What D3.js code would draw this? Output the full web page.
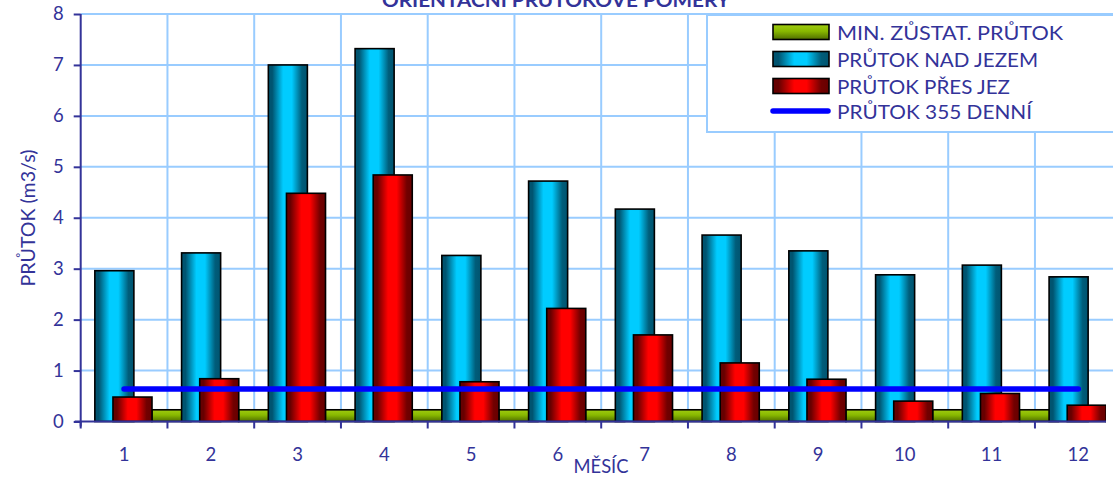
<!DOCTYPE html>
<html><head><meta charset="utf-8">
<script src="https://cdn.jsdelivr.net/npm/d3@7"></script>
<style>body{margin:0;background:#fff}svg{display:block}</style>
</head><body><svg id="c" width="1113" height="477"></svg>
<script>
const title = "ORIENTAČNÍ PRŮTOKOVÉ POMĚRY";
const months = ["1","2","3","4","5","6","7","8","9","10","11","12"];
const minFlow   = [0.23,0.23,0.23,0.23,0.23,0.23,0.23,0.23,0.23,0.23,0.23,0.23];
const flowAbove = [2.96,3.31,7.00,7.32,3.26,4.72,4.17,3.66,3.35,2.88,3.07,2.84];
const flowOver  = [0.48,0.84,4.48,4.84,0.78,2.22,1.70,1.15,0.83,0.40,0.55,0.32];
const flow355   = [0.64,0.64,0.64,0.64,0.64,0.64,0.64,0.64,0.64,0.64,0.64,0.64];
const yTicks = [0,1,2,3,4,5,6,7,8];
const seriesNames = ["MIN. ZŮSTAT. PRŮTOK","PRŮTOK NAD JEZEM","PRŮTOK PŘES JEZ","PRŮTOK 355 DENNÍ"];
const xTitle = "MĚSÍC";
const yTitle = "PRŮTOK (m3/s)";

const txt = "#333399", grid = "#99CCFF", font = "Lato, 'Open Sans', sans-serif";
const svg = d3.select("#c");
const x0 = 80.7, step = 86.75;
const x = d3.scaleBand().domain(months).range([x0, x0 + step * months.length]).padding(0);
const bw = x.bandwidth();
const y = d3.scaleLinear().domain([0, 8]).range([421.5, 14]);

const defs = svg.append("defs");
function hGrad(id, edge, mid, edge2) {
  const g = defs.append("linearGradient").attr("id", id).attr("x1", 0).attr("x2", 1).attr("y1", 0).attr("y2", 0);
  [[0, edge], [0.1, edge], [0.38, mid], [0.6, mid], [0.86, edge2], [1, edge]].forEach(([o, c]) =>
    g.append("stop").attr("offset", o).attr("stop-color", c));
}
hGrad("gCyan", "#005470", "#00ccff", "#005d7a");
hGrad("gRed", "#660000", "#ff0000", "#720000");
const gg = defs.append("linearGradient").attr("id", "gGreen").attr("x1", 0).attr("x2", 0).attr("y1", 0).attr("y2", 1);
[[0, "#a0cc10"], [0.45, "#88b800"], [1, "#4f6d00"]].forEach(([o, c]) => gg.append("stop").attr("offset", o).attr("stop-color", c));
defs.append("clipPath").attr("id", "plotClip").append("rect").attr("x", 80).attr("y", 0).attr("width", 1026).attr("height", 440);

// gridlines
svg.append("g").selectAll("line").data(yTicks.slice(1)).join("line")
  .attr("x1", x0).attr("x2", 1113).attr("y1", d => y(d)).attr("y2", d => y(d))
  .attr("stroke", grid).attr("stroke-width", 2);
svg.append("g").selectAll("line").data(months.slice(1)).join("line")
  .attr("x1", d => x(d)).attr("x2", d => x(d)).attr("y1", y(8)).attr("y2", y(0))
  .attr("stroke", grid).attr("stroke-width", 2);

// bars
const bars = svg.append("g").attr("clip-path", "url(#plotClip)");
function drawBars(vals, off, fill) {
  bars.append("g").selectAll("rect").data(months).join("rect")
    .attr("x", (d) => x(d) + off * bw).attr("width", 0.45 * bw)
    .attr("y", (d, i) => y(vals[i])).attr("height", (d, i) => y(0) - y(vals[i]))
    .attr("fill", fill).attr("stroke", "#000").attr("stroke-width", 1.6);
}
drawBars(minFlow, 0.82, "url(#gGreen)");
drawBars(flowAbove, 0.163, "url(#gCyan)");
drawBars(flowOver, 0.372, "url(#gRed)");

// line
svg.append("path")
  .attr("d", d3.line().x(d => x(d) + bw / 2).y((d, i) => y(flow355[i]))(months))
  .attr("fill", "none").attr("stroke", "#0000ff").attr("stroke-width", 5.5).attr("stroke-linecap", "round");

// y axis
const ya = svg.append("g").attr("transform", `translate(${x0},0)`)
  .call(d3.axisLeft(y).tickValues(yTicks).tickSize(7).tickSizeOuter(0).tickPadding(10));
ya.select(".domain").attr("stroke", txt).attr("stroke-width", 2).attr("d", `M0,${y(8)}V${y(0) + 5}`);
ya.selectAll(".tick line").attr("stroke", txt).attr("stroke-width", 2);
ya.selectAll(".tick text").attr("fill", txt).style("font-family", font).style("font-size", "18.5px");

// x axis
const xa = svg.append("g").attr("transform", `translate(0,${y(0)})`)
  .call(d3.axisBottom(x).tickSize(0).tickPadding(26).tickSizeOuter(0));
xa.select(".domain").attr("stroke", txt).attr("stroke-width", 2).attr("d", `M${x0 - 6},0H1106`);
xa.selectAll(".tick text").attr("fill", txt).style("font-family", font).style("font-size", "18.5px");
svg.append("g").selectAll("line").data(months).join("line")
  .attr("x1", d => x(d)).attr("x2", d => x(d)).attr("y1", y(0)).attr("y2", y(0) + 7)
  .attr("stroke", txt).attr("stroke-width", 2);

// titles
svg.append("text").attr("x", 556).attr("y", 6.5).attr("text-anchor", "middle")
  .attr("textLength", 348).attr("lengthAdjust", "spacingAndGlyphs")
  .attr("fill", txt).style("font-family", font).style("font-weight", "bold").style("font-size", "18px").text(title);
svg.append("text").attr("x", 601).attr("y", 473).attr("text-anchor", "middle")
  .attr("textLength", 55).attr("lengthAdjust", "spacingAndGlyphs")
  .attr("fill", txt).style("font-family", font).style("font-size", "18.5px").text(xTitle);
svg.append("text").attr("transform", "translate(35,218) rotate(-90)").attr("text-anchor", "middle")
  .attr("textLength", 137).attr("lengthAdjust", "spacingAndGlyphs")
  .attr("fill", txt).style("font-family", font).style("font-size", "19px").text(yTitle);

// legend
const lg = svg.append("g");
lg.append("rect").attr("x", 707).attr("y", 15).attr("width", 420).attr("height", 117)
  .attr("fill", "#fff").attr("stroke", grid).attr("stroke-width", 2);
const rowY = [32, 59, 86, 111];
const textLen = [226, 201, 173, 195];
const fills = ["url(#gGreen)", "url(#gCyan)", "url(#gRed)"];
fills.forEach((f, i) => lg.append("rect").attr("x", 773).attr("y", rowY[i] - 7.5).attr("width", 56).attr("height", 15)
  .attr("fill", f).attr("stroke", "#000").attr("stroke-width", 1.6));
lg.append("line").attr("x1", 773).attr("x2", 828).attr("y1", rowY[3]).attr("y2", rowY[3])
  .attr("stroke", "#0000ff").attr("stroke-width", 5.5).attr("stroke-linecap", "round");
lg.selectAll("text.l").data(seriesNames).join("text").attr("class", "l")
  .attr("x", 837).attr("y", (d, i) => rowY[i] + 8)
  .attr("textLength", (d, i) => textLen[i]).attr("lengthAdjust", "spacingAndGlyphs")
  .attr("fill", txt).style("font-family", font).style("font-size", "19px").text(d => d);
</script></body></html>
